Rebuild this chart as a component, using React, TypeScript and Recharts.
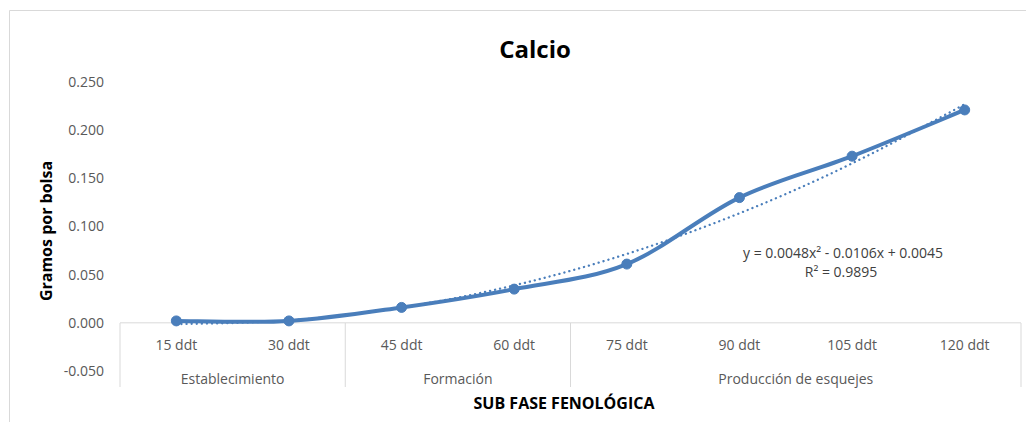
import React from 'react';
import { LineChart, Line, XAxis, YAxis, ReferenceLine, Customized } from 'recharts';

const categories = ['15 ddt', '30 ddt', '45 ddt', '60 ddt', '75 ddt', '90 ddt', '105 ddt', '120 ddt'];
const groups = [
  'Establecimiento', 'Establecimiento',
  'Formación', 'Formación',
  'Producción de esquejes', 'Producción de esquejes', 'Producción de esquejes', 'Producción de esquejes',
];
const calcio = [0.002, 0.002, 0.016, 0.035, 0.061, 0.13, 0.173, 0.221];
const trend = [-0.0013, 0.0025, 0.0159, 0.0389, 0.0715, 0.1137, 0.1655, 0.2269];
const yTicks = [-0.05, 0, 0.05, 0.1, 0.15, 0.2, 0.25];

const data = categories.map((c, i) => ({ cat: c, group: groups[i], calcio: calcio[i], trend: trend[i] }));

const BLUE = '#4a7ebb';
const GRAY_TEXT = '#595959';
const AXIS_GRAY = '#d9d9d9';
const FONT = '"Open Sans", "DejaVu Sans", sans-serif';

// Catmull-Rom style smoothing (similar to Excel smoothed lines)
const catmullRom = (context: any) => {
  let pts: number[][] = [];
  return {
    areaStart() {},
    areaEnd() {},
    lineStart() { pts = []; },
    lineEnd() {
      if (!pts.length) return;
      context.moveTo(pts[0][0], pts[0][1]);
      for (let i = 0; i < pts.length - 1; i++) {
        const p0 = pts[i - 1] || pts[i];
        const p1 = pts[i];
        const p2 = pts[i + 1];
        const p3 = pts[i + 2] || pts[i + 1];
        context.bezierCurveTo(
          p1[0] + (p2[0] - p0[0]) / 6, p1[1] + (p2[1] - p0[1]) / 6,
          p2[0] - (p3[0] - p1[0]) / 6, p2[1] - (p3[1] - p1[1]) / 6,
          p2[0], p2[1]
        );
      }
    },
    point(x: number, y: number) { pts.push([+x, +y]); },
  };
};

const ZERO_ABOVE_BOTTOM = 48; // distance from plot bottom (-0.05) up to the 0 line

const CategoryTick = (props: any) => {
  const { x, y, index, payload, width, visibleTicksCount } = props;
  const n = visibleTicksCount || categories.length;
  const step = Number.isFinite(width) && width > 0 ? width / n : 901 / n;
  const y0 = y - ZERO_ABOVE_BOTTOM;
  const g = groups[index];
  const isStart = index === 0 || groups[index - 1] !== g;
  let count = 0;
  if (isStart) {
    let j = index;
    while (j < groups.length && groups[j] === g) { count++; j++; }
  }
  const isLast = index === categories.length - 1;
  return (
    <g>
      <text x={x} y={y0 + 21} textAnchor="middle" dominantBaseline="central" fill={GRAY_TEXT} fontSize={14} fontFamily={FONT}>
        {payload.value}
      </text>
      {isStart && (
        <line x1={x - step / 2} x2={x - step / 2} y1={y0} y2={y0 + 64} stroke={AXIS_GRAY} strokeWidth={1} />
      )}
      {isLast && (
        <line x1={x + step / 2} x2={x + step / 2} y1={y0} y2={y0 + 64} stroke={AXIS_GRAY} strokeWidth={1} />
      )}
      {isStart && (
        <text x={x + ((count - 1) * step) / 2} y={y0 + 55} textAnchor="middle" dominantBaseline="central" fill={GRAY_TEXT} fontSize={14} fontFamily={FONT}>
          {g}
        </text>
      )}
    </g>
  );
};

const Decorations = () => (
  <g>
    <path d="M9.5 422 V10.5 H1026" fill="none" stroke={AXIS_GRAY} strokeWidth={1} />
    <text x={535} y={48} textAnchor="middle" dominantBaseline="central" fontSize={24} fontWeight="bold" fill="#000" fontFamily={FONT}>
      Calcio
    </text>
    <text x={46} y={231} transform="rotate(-90 46 231)" textAnchor="middle" dominantBaseline="central" fontSize={16} fontWeight="bold" fill="#000" fontFamily={FONT}>
      Gramos por bolsa
    </text>
    <text x={564} y={403} textAnchor="middle" dominantBaseline="central" fontSize={16} fontWeight="bold" fill="#000" fontFamily={FONT}>
      SUB FASE FENOLÓGICA
    </text>
    <text x={843} y={252} textAnchor="middle" dominantBaseline="central" fontSize={14} fill="#404040" fontFamily={FONT}>
      y = 0.0048x² - 0.0106x + 0.0045
    </text>
    <text x={841} y={271} textAnchor="middle" dominantBaseline="central" fontSize={14} fill="#404040" fontFamily={FONT}>
      R² = 0.9895
    </text>
  </g>
);

export default function App() {
  return (
    <div style={{ position: 'absolute', left: 0, top: 0, width: 1026, height: 422, background: '#fff', overflow: 'hidden' }}>
      <LineChart width={1026} height={422} data={data} margin={{ top: 82, right: 5, left: 0, bottom: 11 }}>
        <Customized component={Decorations} />
        <XAxis
          dataKey="cat"
          scale="band"
          height={40}
          axisLine={false}
          tickLine={false}
          tickSize={0}
          tickMargin={0}
          interval={0}
          tick={<CategoryTick />}
        />
        <YAxis
          width={120}
          domain={[-0.05, 0.25]}
          ticks={yTicks}
          type="number"
          axisLine={false}
          tickLine={false}
          tickSize={0}
          tickMargin={16}
          tickFormatter={(v: number) => v.toFixed(3)}
          tick={{ fill: GRAY_TEXT, fontSize: 14, fontFamily: FONT }}
          interval={0}
        />
        <ReferenceLine y={0} stroke={AXIS_GRAY} strokeWidth={1} />
        <Line
          dataKey="calcio"
          type={catmullRom as any}
          stroke={BLUE}
          strokeWidth={4}
          dot={{ r: 5, fill: BLUE, stroke: BLUE, strokeWidth: 1 }}
          activeDot={false}
          isAnimationActive={false}
        />
        <Line
          dataKey="trend"
          type="natural"
          stroke={BLUE}
          strokeWidth={2.3}
          strokeDasharray="0.1 5"
          strokeLinecap="round"
          dot={false}
          activeDot={false}
          isAnimationActive={false}
        />
      </LineChart>
    </div>
  );
}
